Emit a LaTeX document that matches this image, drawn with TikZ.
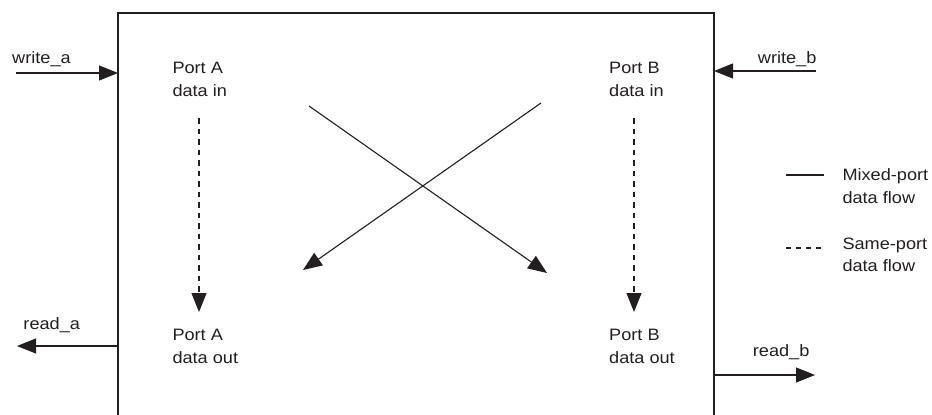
\documentclass[tikz,border=0pt]{standalone}
\usepackage{fontspec}
\setmainfont{Liberation Sans}[FakeStretch=1.1]
\usetikzlibrary{arrows.meta}
\definecolor{ink}{HTML}{231F20}
\begin{document}
\begin{tikzpicture}[x=1bp,y=-1bp,
  lbl/.style={inner sep=0pt,anchor=base west,font=\fontsize{16.5bp}{22.7bp}\selectfont,text=ink,align=left},
  flow/.style={draw=ink,line width=1.1bp,-{Triangle[length=19bp,width=15bp]}},
  sameflow/.style={flow,dash pattern=on 5.5bp off 5bp},
  boxline/.style={draw=ink,line width=1.3bp}]
\useasboundingbox (0,0) rectangle (932,414);
% main box (open at the bottom, running off the page)
\begin{scope}
\clip (0,0) rectangle (932,414);
\draw[boxline] (118,430) -- (118,13) -- (714,13) -- (714,430);
\end{scope}
% labels (anchored at the baseline of the last line)
\node[lbl] (wa) at (12,63.3) {write\_a};
\node[lbl] (wb) at (757.7,63.3) {write\_b};
\node[lbl] (ra) at (23.3,329.3) {read\_a};
\node[lbl] (rb) at (752.7,356) {read\_b};
\node[lbl] (ain) at (172.3,96) {Port A\\data in};
\node[lbl] (aout) at (172.3,363.3) {Port A\\data out};
\node[lbl] (bin) at (609,96) {Port B\\data in};
\node[lbl] (bout) at (609,363.3) {Port B\\data out};
\node[lbl] (lmix) at (842.3,203.3) {Mixed-port\\data flow};
\node[lbl] (lsame) at (842.3,271.7) {Same-port\\data flow};
% port coordinates
\coordinate (wastart) at (16,73);
\coordinate (waend) at (118,73);
\coordinate (wbstart) at (816,71);
\coordinate (wbend) at (714,71);
\coordinate (rastart) at (118,346);
\coordinate (raend) at (17,346);
\coordinate (rbstart) at (714,375);
\coordinate (rbend) at (815,375);
\draw[flow] (wastart) -- (waend);
\draw[flow] (wbstart) -- (wbend);
\draw[flow] (rastart) -- (raend);
\draw[flow] (rbstart) -- (rbend);
% same-port flows
\coordinate (adtop) at (199,118);
\coordinate (adbot) at (199,312);
\coordinate (bdtop) at (634,118);
\coordinate (bdbot) at (634,312);
\draw[sameflow] (adtop) -- (adbot);
\draw[sameflow] (bdtop) -- (bdbot);
% mixed-port flows
\coordinate (x1s) at (309,106);
\coordinate (x1e) at (547,273);
\coordinate (x2s) at (541,103);
\coordinate (x2e) at (303,270);
\draw[flow] (x1s) -- (x1e);
\draw[flow] (x2s) -- (x2e);
% legend
\coordinate (lm1) at (786,175);
\coordinate (lm2) at (824,175);
\coordinate (ls1) at (786,248);
\coordinate (ls2) at (824,248);
\draw[draw=ink,line width=1.1bp] (lm1) -- (lm2);
\draw[draw=ink,line width=1.1bp,dash pattern=on 5bp off 5bp] (ls1) -- (ls2);
\end{tikzpicture}
\end{document}
